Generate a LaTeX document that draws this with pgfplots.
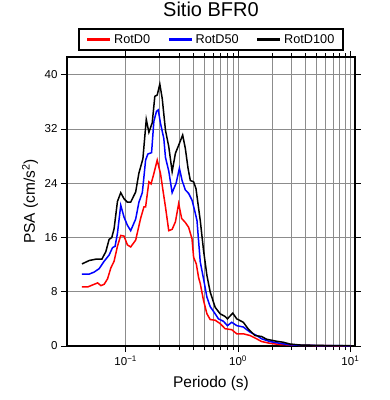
\documentclass[border=0pt]{standalone}
\usepackage{pgfplots}
\pgfplotsset{compat=1.18}
\usepackage{fontspec}
\setmainfont{Liberation Sans}
\begin{document}
\begin{tikzpicture}
\begin{axis}[
  scale only axis, width=288pt, height=289pt,
  xmode=log, xmin=0.03, xmax=11, ymin=0, ymax=42.6,
  ytick={0,8,16,24,32,40},
  xtick={0.1,1,10},
  xticklabels={10\textsuperscript{−1},10\textsuperscript{0},10\textsuperscript{1}},
  /pgf/number format/assume math mode=true,
  grid=both,
  major grid style={draw=black!45, line width=0.5pt},
  minor grid style={draw=black!45, line width=0.5pt},
  tick align=outside, tick pos=both,
  major tick length=6pt, minor tick length=4pt,
  tick style={black, line width=0.6pt},
  axis line style={line width=1.8pt},
  tick label style={font=\fontsize{11.5}{13}\selectfont},
  xlabel={Periodo (s)}, ylabel={PSA (cm/s\textsuperscript{2})},
  every axis x label/.style={at={(rel axis cs:0.5,0)}, anchor=center, yshift=-37pt,
    font=\fontsize{15.5}{18}\selectfont},
  every axis y label/.style={at={(rel axis cs:0,0.5)}, anchor=center, rotate=90, yshift=37pt,
    font=\fontsize{15.5}{18}\selectfont},
  title={Sitio BFR0},
  title style={at={(0.5,1)}, anchor=base, yshift=35pt, font=\fontsize{20}{24}\selectfont},
  legend columns=3,
  legend style={at={(0.5,1)}, anchor=south, yshift=6pt, draw=black, line width=1.8pt,
    font=\fontsize{12.7}{15}\selectfont, inner xsep=7pt, inner ysep=3.5pt,
    /tikz/every even column/.append style={column sep=15pt}},
  legend image code/.code={\draw[#1, line width=3.5pt] (0pt,0pt) -- (23pt,0pt);},
]
\coordinate (sw) at (rel axis cs:0,0);
\coordinate (ne) at (rel axis cs:1,1);
\addplot[red, line width=1.5pt] coordinates {
(0.0408,8.7) (0.0458,8.7) (0.0507,9.0) (0.0562,9.3) (0.0601,8.9) (0.0643,9.1)
(0.0689,9.9) (0.0737,11.5) (0.0788,12.5) (0.0844,14.7) (0.0903,16.3) (0.0966,16.2)
(0.1035,14.9) (0.1107,14.6) (0.1226,15.6) (0.1357,18.8) (0.1452,20.5) (0.1503,20.5)
(0.1608,24.2) (0.1682,23.9) (0.1780,25.4) (0.1908,27.4) (0.2041,25.4) (0.2157,22.7)
(0.2259,20.5) (0.2416,17.0) (0.2590,17.2) (0.2770,18.3) (0.2962,21.0) (0.3149,18.8)
(0.3396,18.2) (0.3632,17.5) (0.3893,15.8) (0.4021,13.1) (0.4249,12.1) (0.4454,10.1)
(0.4610,9.2) (0.4930,6.7) (0.5284,4.75) (0.5652,3.9) (0.6259,3.8) (0.6929,3.3)
(0.7674,2.55) (0.8794,2.4) (0.9739,1.8) (1.114,1.8) (1.277,1.55) (1.464,1.06)
(1.621,0.66) (1.920,0.4) (2.354,0.22) (3.538,0.1) (6.52,0.04) (10,0.02)
};
\addlegendentry{RotD0}
\addplot[blue, line width=1.5pt] coordinates {
(0.0408,10.6) (0.0473,10.6) (0.0524,10.9) (0.0580,11.4) (0.0643,12.5) (0.0711,13.4)
(0.0763,14.5) (0.0804,14.7) (0.0844,16.6) (0.0903,20.75) (0.0966,19.0) (0.1035,17.8)
(0.1107,17.0) (0.1226,18.7) (0.1311,21.2) (0.1405,22.6) (0.1434,24.0) (0.1503,27.4)
(0.1575,28.3) (0.1699,28.5) (0.1780,33.1) (0.1880,34.6) (0.1948,34.8) (0.2041,32.8)
(0.2183,30.6) (0.2259,27.8) (0.2416,25.8) (0.2590,22.6) (0.2810,24.0) (0.3005,26.2)
(0.3176,24.4) (0.3396,23.0) (0.3632,22.5) (0.3893,21.5) (0.4104,20.0) (0.4310,18.5)
(0.4454,15.5) (0.4610,12.4) (0.4930,9.9) (0.5284,7.2) (0.5652,5.8) (0.6259,4.75)
(0.6692,4.0) (0.7412,3.65) (0.8044,3.0) (0.8794,3.5) (0.9739,3.0) (1.114,2.8)
(1.277,2.05) (1.464,1.55) (1.621,1.06) (1.920,0.66) (2.354,0.4) (2.885,0.18)
(3.538,0.1) (6.52,0.05) (10,0.03)
};
\addlegendentry{RotD50}
\addplot[black, line width=1.5pt] coordinates {
(0.0408,12.1) (0.0473,12.6) (0.0543,12.8) (0.0613,12.8) (0.0665,13.9) (0.0711,15.7)
(0.0752,16.0) (0.0788,17.3) (0.0844,21.3) (0.0903,22.6) (0.0966,21.7) (0.1035,21.2)
(0.1107,21.2) (0.1226,22.7) (0.1311,25.5) (0.1422,27.6) (0.1524,33.4) (0.1608,31.5)
(0.1722,32.9) (0.1816,36.8) (0.1908,37.0) (0.2012,38.6) (0.2113,36.5) (0.2259,31.8)
(0.2416,29.4) (0.2590,25.7) (0.2770,28.4) (0.2962,29.6) (0.3215,31.1) (0.3396,29.1)
(0.3588,26.2) (0.3760,24.4) (0.4021,24.2) (0.4223,23.2) (0.4398,21.0) (0.4610,18.5)
(0.4930,14.1) (0.5284,10.4) (0.5652,7.95) (0.6259,5.7) (0.6929,4.75) (0.7674,4.35)
(0.8044,4.0) (0.8978,4.85) (0.9739,4.0) (1.114,3.5) (1.234,2.5) (1.414,1.55)
(1.621,1.4) (1.795,1.0) (2.200,0.7) (2.517,0.56) (2.885,0.3) (3.538,0.15)
(4.638,0.1) (6.52,0.06) (10,0.04)
};
\addlegendentry{RotD100}
\end{axis}
\pgfresetboundingbox
\useasboundingbox ([shift={(-67pt,-54pt)}]sw) rectangle ([shift={(35pt,57pt)}]ne);
\end{tikzpicture}
\end{document}
